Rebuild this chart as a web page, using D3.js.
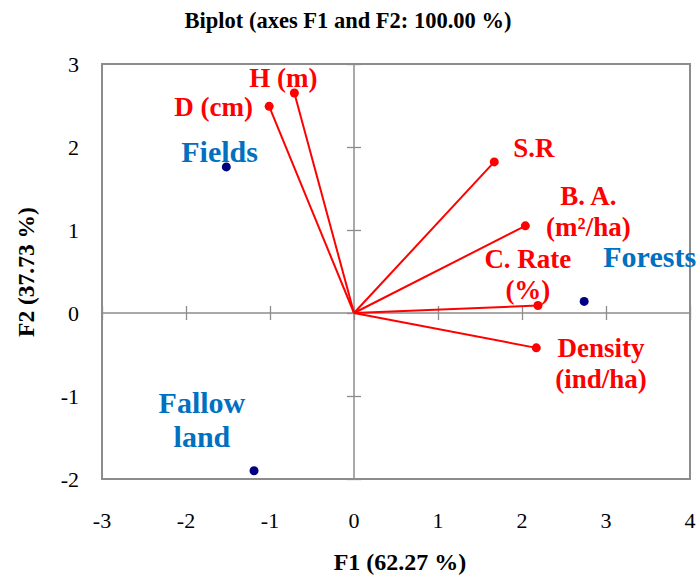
<!DOCTYPE html>
<html><head><meta charset="utf-8">
<script src="https://cdn.jsdelivr.net/npm/d3@7"></script>
<style>body{margin:0;background:#fff}svg{display:block}</style>
</head><body>
<svg id="c" width="700" height="577"></svg>
<script>
const varNames = ["H (m)", "D (cm)", "S.R", "B. A. (m²/ha)", "C. Rate (%)", "Density (ind/ha)"];
const varF1 = [-0.71, -1.01, 1.67, 2.04, 2.19, 2.17];
const varF2 = [2.65, 2.49, 1.82, 1.05, 0.09, -0.42];
const varLabelLines = [["H (m)"], ["D (cm)"], ["S.R"], ["B. A.", "(m²/ha)"], ["C. Rate", "(%)"], ["Density", "(ind/ha)"]];
const obsNames = ["Fields", "Forests", "Fallow land"];
const obsF1 = [-1.52, 2.74, -1.19];
const obsF2 = [1.76, 0.14, -1.90];
const obsLabelLines = [["Fields"], ["Forests"], ["Fallow", "land"]];
const xTicks = [-3, -2, -1, 0, 1, 2, 3, 4];
const yTicks = [-2, -1, 0, 1, 2, 3];

// label anchor positions (data space: label centre x, first-line baseline y)
const varLabelPos = [[-0.84, 2.72], [-1.67, 2.37], [2.14, 1.88], [2.79, 1.30], [2.07, 0.54], [2.94, -0.53]];
const obsLabelPos = [[-1.60, 1.82], [3.52, 0.55], [-1.81, -1.205]];

const F = "'Liberation Serif', 'Times New Roman', Times, serif";
const svg = d3.select("#c").attr("font-family", F);
const x = d3.scaleLinear().domain([-3, 4]).range([102, 690]);
const y = d3.scaleLinear().domain([-2, 3]).range([479, 64]);
const gray = "#8c8c8c";

svg.append("rect").attr("x", x(-3)).attr("y", y(3)).attr("width", x(4) - x(-3)).attr("height", y(-2) - y(3))
  .attr("fill", "none").attr("stroke", gray).attr("stroke-width", 2);

const xAxis = d3.axisBottom(x).tickValues(xTicks).tickSize(14).tickFormat("");
const gx = svg.append("g").attr("transform", `translate(0,${y(0) - 7})`).call(xAxis);
gx.select(".domain").remove();
gx.selectAll("line").attr("stroke", gray).attr("stroke-width", 1.3);
svg.append("line").attr("x1", x(-3)).attr("x2", x(4)).attr("y1", y(0)).attr("y2", y(0)).attr("stroke", gray).attr("stroke-width", 1.5);

const yAxis = d3.axisRight(y).tickValues(yTicks).tickSize(14).tickFormat("");
const gy = svg.append("g").attr("transform", `translate(${x(0) - 7},0)`).call(yAxis);
gy.select(".domain").remove();
gy.selectAll("line").attr("stroke", gray).attr("stroke-width", 1.3);
svg.append("line").attr("x1", x(0)).attr("x2", x(0)).attr("y1", y(3)).attr("y2", y(-2)).attr("stroke", gray).attr("stroke-width", 1.5);

svg.append("g").selectAll("text").data(xTicks).join("text")
  .attr("x", d => x(d)).attr("y", 528).attr("text-anchor", "middle").attr("font-family", F)
  .attr("font-size", 22).text(d => d);
svg.append("g").selectAll("text").data(yTicks).join("text")
  .attr("x", 79).attr("y", d => y(d) + 8).attr("text-anchor", "end").attr("font-family", F)
  .attr("font-size", 22).text(d => d);

svg.append("text").attr("x", 348).attr("y", 28).attr("text-anchor", "middle").attr("font-family", F)
  .attr("font-size", 22.5).attr("font-weight", "bold").text("Biplot (axes F1 and F2: 100.00 %)");
svg.append("text").attr("x", 400).attr("y", 570).attr("text-anchor", "middle").attr("font-family", F)
  .attr("font-size", 24).attr("font-weight", "bold").text("F1 (62.27 %)");
svg.append("text").attr("transform", "translate(34,272) rotate(-90)").attr("text-anchor", "middle").attr("font-family", F)
  .attr("font-size", 23.5).attr("font-weight", "bold").text("F2 (37.73 %)");

const vars = varNames.map((n, i) => ({n, f1: varF1[i], f2: varF2[i], lines: varLabelLines[i], lp: varLabelPos[i]}));
svg.append("g").selectAll("line").data(vars).join("line")
  .attr("x1", x(0)).attr("y1", y(0)).attr("x2", d => x(d.f1)).attr("y2", d => y(d.f2))
  .attr("stroke", "#ff0000").attr("stroke-width", 2);
svg.append("g").selectAll("circle").data(vars).join("circle")
  .attr("cx", d => x(d.f1)).attr("cy", d => y(d.f2)).attr("r", 4.5).attr("fill", "#ff0000");
vars.forEach(d => {
  const t = svg.append("text").attr("text-anchor", "middle").attr("font-family", F).attr("font-size", 27).attr("font-weight", "bold").attr("fill", "#ff0000");
  d.lines.forEach((l, j) => t.append("tspan").attr("x", x(d.lp[0])).attr("y", y(d.lp[1]) + j * 31).text(l));
});

const obs = obsNames.map((n, i) => ({n, f1: obsF1[i], f2: obsF2[i], lines: obsLabelLines[i], lp: obsLabelPos[i]}));
svg.append("g").selectAll("circle").data(obs).join("circle")
  .attr("cx", d => x(d.f1)).attr("cy", d => y(d.f2)).attr("r", 4.5).attr("fill", "#000080");
obs.forEach(d => {
  const t = svg.append("text").attr("text-anchor", "middle").attr("font-family", F).attr("font-size", 30).attr("font-weight", "bold").attr("fill", "#0070c0");
  d.lines.forEach((l, j) => t.append("tspan").attr("x", x(d.lp[0])).attr("y", y(d.lp[1]) + j * 34).text(l));
});
</script>
</body></html>
